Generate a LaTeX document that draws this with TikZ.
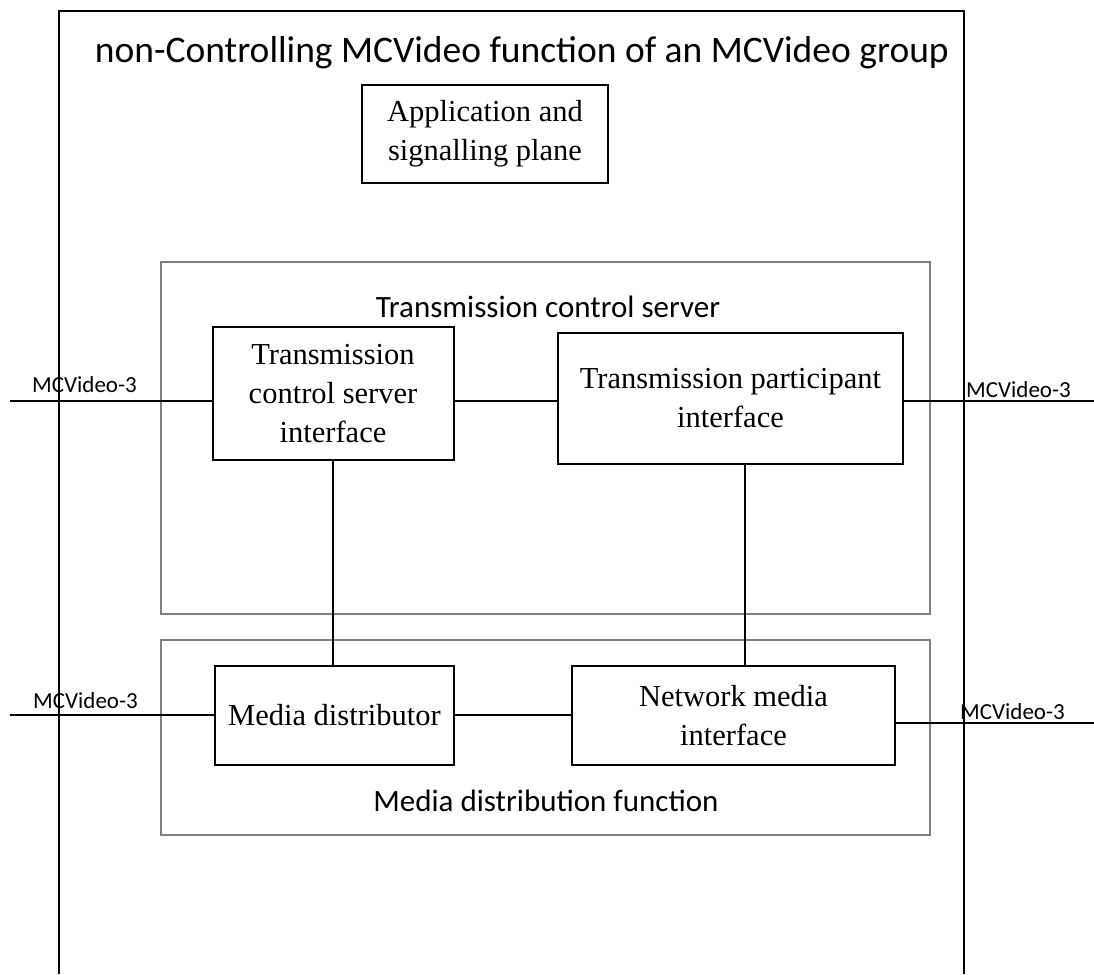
\documentclass[tikz,border=0pt]{standalone}
\usepackage{fontspec}
\setmainfont{Liberation Serif}
\newfontfamily\calfont{Carlito}
\begin{document}
\begin{tikzpicture}[x=1pt,y=-1pt,
  box/.style={draw=black,line width=2pt,inner sep=0pt,outer sep=0pt,align=center,
    font=\fontsize{30.5}{39}\selectfont},
  grp/.style={draw=black!50,line width=2pt},
  wire/.style={draw=black,line width=2pt},
  lbl/.style={font=\calfont\fontsize{23}{26}\selectfont,inner sep=0pt},
  grplbl/.style={font=\calfont\fontsize{31}{34}\selectfont,inner sep=0pt}]
\useasboundingbox (0,0) rectangle (1094,974);
% outer box (open at the bottom)
\draw[line width=2pt] (59,974) -- (59,11) -- (964,11) -- (964,974);
\node[font=\calfont\fontsize{37.5}{42}\selectfont,inner sep=0pt,anchor=base] (title) at (522,63) {non-Controlling MCVideo function of an MCVideo group};
\node[box,minimum width=246pt,minimum height=98pt] (app) at (485,134) {Application and\\signalling plane};
% groups
\draw[grp] (161,262) rectangle (930,614);
\node[grplbl,anchor=base] (tcslbl) at (548,317) {Transmission control server};
\draw[grp] (161,640) rectangle (930,835);
\node[grplbl,anchor=base] (mdflbl) at (546,811) {Media distribution function};
% inner boxes
\node[box,minimum width=241pt,minimum height=133pt] (tcsi) at (333,393.5) {Transmission\\control server\\interface};
\node[box,minimum width=345pt,minimum height=131pt] (tpi) at (730.5,398.5) {Transmission participant\\interface};
\node[box,minimum width=239pt,minimum height=99pt] (md) at (334.5,715.5) {Media distributor};
\node[box,minimum width=323pt,minimum height=99pt] (nmi) at (733.5,715.5) {Network media\\interface};
% helper coordinates
\coordinate (l1) at (10,401);
\coordinate (r1) at (1094,401);
\coordinate (l2) at (10,715);
\coordinate (r2) at (1094,723);
\coordinate (y1) at (0,401);
\coordinate (x2) at (745,0);
% connectors
\draw[wire] (l1) -- (l1 -| tcsi.west);
\draw[wire] (tcsi.east |- y1) -- (tpi.west |- y1);
\draw[wire] (tpi.east |- r1) -- (r1);
\draw[wire] (tcsi.south) -- (tcsi.south |- md.north);
\draw[wire] (tpi.south -| x2) -- (nmi.north -| x2);
\draw[wire] (l2) -- (l2 -| md.west);
\draw[wire] (md.east |- l2) -- (nmi.west |- l2);
\draw[wire] (nmi.east |- r2) -- (r2);
% interface labels
\node[lbl,anchor=base west] (lab1) at (32,392) {MCVideo-3};
\node[lbl,anchor=base west] (lab2) at (966,397) {MCVideo-3};
\node[lbl,anchor=base west] (lab3) at (33,708) {MCVideo-3};
\node[lbl,anchor=base west] (lab4) at (960,719) {MCVideo-3};
\end{tikzpicture}
\end{document}
